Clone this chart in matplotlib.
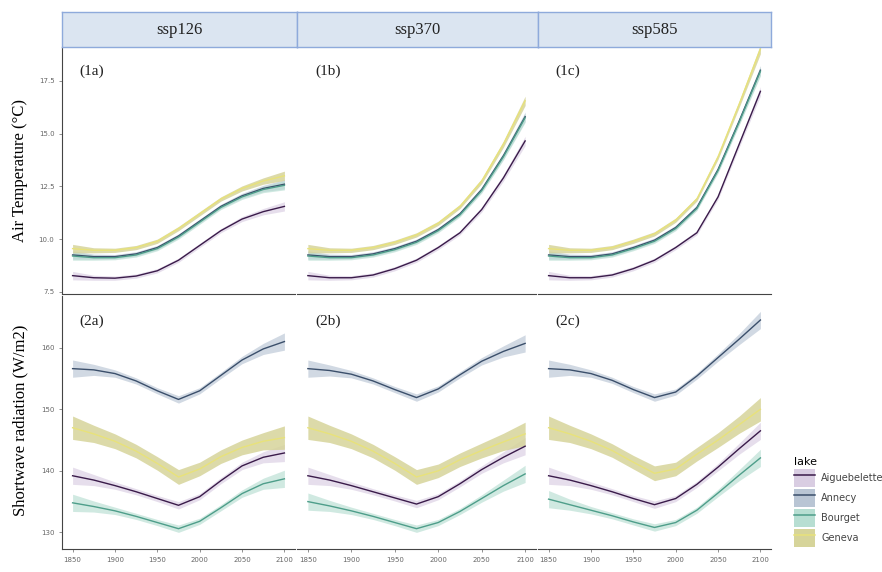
import numpy as np
import matplotlib.pyplot as plt
from matplotlib.patches import Patch
from matplotlib.lines import Line2D

# data (smoothed trends, every 25 years)
years = [1850, 1875, 1900, 1925, 1950, 1975, 2000, 2025, 2050, 2075, 2100]
scenarios = ['ssp126', 'ssp370', 'ssp585']
lakes = ['Aiguebelette', 'Annecy', 'Bourget', 'Geneva']

# air temperature (°C)
temp_aiguebelette = {
    'ssp126': [8.27, 8.17, 8.15, 8.25, 8.5, 9.0, 9.7, 10.4, 10.95, 11.3, 11.55],
    'ssp370': [8.27, 8.17, 8.17, 8.3, 8.6, 9.0, 9.6, 10.3, 11.4, 12.9, 14.65],
    'ssp585': [8.27, 8.17, 8.17, 8.3, 8.6, 9.0, 9.6, 10.3, 12.0, 14.5, 17.0],
}
temp_annecy = {
    'ssp126': [9.25, 9.17, 9.17, 9.3, 9.6, 10.15, 10.85, 11.55, 12.05, 12.4, 12.6],
    'ssp370': [9.25, 9.17, 9.17, 9.3, 9.55, 9.9, 10.45, 11.2, 12.35, 13.95, 15.8],
    'ssp585': [9.25, 9.17, 9.17, 9.3, 9.6, 9.95, 10.55, 11.5, 13.3, 15.6, 18.0],
}
temp_bourget = {
    'ssp126': [9.2, 9.12, 9.12, 9.25, 9.55, 10.1, 10.8, 11.5, 12.0, 12.35, 12.55],
    'ssp370': [9.2, 9.12, 9.12, 9.25, 9.5, 9.85, 10.4, 11.15, 12.3, 13.9, 15.75],
    'ssp585': [9.2, 9.12, 9.12, 9.25, 9.55, 9.9, 10.5, 11.45, 13.25, 15.55, 17.95],
}
temp_geneva = {
    'ssp126': [9.55, 9.47, 9.47, 9.6, 9.9, 10.5, 11.2, 11.9, 12.4, 12.75, 13.0],
    'ssp370': [9.55, 9.47, 9.47, 9.6, 9.85, 10.2, 10.75, 11.55, 12.75, 14.5, 16.55],
    'ssp585': [9.55, 9.47, 9.47, 9.6, 9.9, 10.25, 10.9, 11.9, 13.9, 16.4, 19.0],
}

# shortwave radiation (W/m2)
sw_aiguebelette = {
    'ssp126': [139.2, 138.5, 137.6, 136.6, 135.5, 134.4, 135.8, 138.4, 140.8, 142.2, 142.9],
    'ssp370': [139.2, 138.5, 137.6, 136.6, 135.6, 134.6, 135.8, 137.9, 140.2, 142.2, 144.0],
    'ssp585': [139.2, 138.5, 137.6, 136.6, 135.5, 134.5, 135.5, 137.8, 140.6, 143.6, 146.5],
}
sw_annecy = {
    'ssp126': [156.6, 156.4, 155.8, 154.6, 153.0, 151.6, 153.0, 155.5, 158.0, 159.8, 161.0],
    'ssp370': [156.6, 156.3, 155.7, 154.6, 153.2, 151.9, 153.3, 155.6, 157.8, 159.4, 160.7],
    'ssp585': [156.6, 156.4, 155.8, 154.7, 153.2, 151.9, 152.8, 155.4, 158.4, 161.4, 164.5],
}
sw_bourget = {
    'ssp126': [134.8, 134.2, 133.5, 132.6, 131.6, 130.6, 131.8, 134.0, 136.3, 137.9, 138.7],
    'ssp370': [135.0, 134.3, 133.5, 132.6, 131.6, 130.6, 131.6, 133.4, 135.5, 137.6, 139.5],
    'ssp585': [135.4, 134.5, 133.6, 132.7, 131.7, 130.8, 131.6, 133.6, 136.4, 139.3, 142.1],
}
sw_geneva = {
    'ssp126': [147.0, 146.0, 144.8, 143.2, 141.2, 139.0, 140.3, 142.3, 143.8, 144.8, 145.4],
    'ssp370': [147.0, 146.0, 144.8, 143.2, 141.2, 139.0, 140.0, 141.8, 143.3, 144.7, 146.0],
    'ssp585': [147.0, 146.0, 144.8, 143.3, 141.4, 139.6, 140.3, 142.7, 145.0, 147.5, 150.0],
}

# half widths of the confidence bands
temp_ci = [0.2, 0.12, 0.1, 0.1, 0.1, 0.1, 0.1, 0.1, 0.12, 0.15, 0.22]
sw_ci = [1.4, 0.9, 0.6, 0.5, 0.5, 0.6, 0.5, 0.5, 0.6, 0.9, 1.4]
sw_ci_geneva = [1.9, 1.4, 1.2, 1.1, 1.1, 1.2, 1.1, 1.1, 1.2, 1.4, 1.9]

temp_ticks = [7.5, 10.0, 12.5, 15.0, 17.5]
sw_ticks = [130, 140, 150, 160]
x_ticks = [1850, 1900, 1950, 2000, 2050, 2100]

line_colors = {'Aiguebelette': '#3a1b4a', 'Annecy': '#3b4f6b',
               'Bourget': '#4e9e8a', 'Geneva': '#e8e27a'}
fill_colors = {'Aiguebelette': '#d9cde2', 'Annecy': '#b9c5d4',
               'Bourget': '#b7ded2', 'Geneva': '#d6d49a'}

temp = {'Aiguebelette': temp_aiguebelette, 'Annecy': temp_annecy,
        'Bourget': temp_bourget, 'Geneva': temp_geneva}
sw = {'Aiguebelette': sw_aiguebelette, 'Annecy': sw_annecy,
      'Bourget': sw_bourget, 'Geneva': sw_geneva}

W, H = 882, 572
fig = plt.figure(figsize=(W / 100, H / 100), dpi=100)
serif = 'Liberation Serif'

col_x = [(62, 295), (297, 536), (538, 771)]
row_y = [(47, 294), (296, 549)]
tags = [['(1a)', '(1b)', '(1c)'], ['(2a)', '(2b)', '(2c)']]


def px_axes(x0, x1, y0, y1):
    return fig.add_axes([x0 / W, 1 - y1 / H, (x1 - x0) / W, (y1 - y0) / H])


for r in range(2):
    for c, sc in enumerate(scenarios):
        ax = px_axes(col_x[c][0], col_x[c][1], row_y[r][0], row_y[r][1])
        for lk in lakes:
            if r == 0:
                y = np.array(temp[lk][sc])
                ci = np.array(temp_ci)
            else:
                y = np.array(sw[lk][sc])
                ci = np.array(sw_ci_geneva if lk == 'Geneva' else sw_ci)
            ax.fill_between(years, y - ci, y + ci, color=fill_colors[lk],
                            alpha=0.65 if lk != 'Geneva' else 0.85, lw=0)
            ax.plot(years, y, color=line_colors[lk], lw=1.0)
        ax.set_xlim(1837.5, 2112.5)
        if r == 0:
            ax.set_ylim(7.4, 19.1)
            ax.set_yticks(temp_ticks)
            ax.set_yticklabels(['7.5', '10.0', '12.5', '15.0', '17.5'])
            ax.set_xticks([])
        else:
            ax.set_ylim(127.3, 168.4)
            ax.set_yticks(sw_ticks)
            ax.set_xticks(x_ticks)
        for s in ['top', 'right']:
            ax.spines[s].set_visible(False)
        ax.spines['bottom'].set_color('#444444')
        ax.spines['left'].set_color('#444444')
        if c > 0:
            ax.spines['left'].set_visible(False)
            ax.set_yticks([])
        ax.tick_params(labelsize=5, colors='#666666', length=2, width=0.5)
        ax.text(0.075, 0.9, tags[r][c], transform=ax.transAxes, fontsize=11,
                family=serif, ha='left', va='center', color='#222222')

# strips on top
for c, sc in enumerate(scenarios):
    sx = px_axes(col_x[c][0], col_x[c][1] + (2 if c < 2 else 0), 12, 47)
    sx.set_xticks([])
    sx.set_yticks([])
    sx.set_facecolor('#dbe5f1')
    for s in sx.spines.values():
        s.set_color('#8eaadb')
        s.set_linewidth(1)
    sx.text(0.5, 0.5, sc, transform=sx.transAxes, ha='center', va='center',
            fontsize=12, family=serif, color='#222222')

fig.text(20 / W, 1 - 170 / H, 'Air Temperature (°C)', rotation=90,
         ha='center', va='center', fontsize=12, family=serif)
fig.text(20 / W, 1 - 420 / H, 'Shortwave radiation (W/m2)', rotation=90,
         ha='center', va='center', fontsize=12, family=serif)

handles = [(Patch(facecolor=fill_colors[lk], edgecolor='none'),
            Line2D([0], [0], color=line_colors[lk], lw=1.1)) for lk in lakes]
leg = fig.legend(handles, lakes, title='lake', loc='upper left',
                 bbox_to_anchor=(790 / W, 1 - 453 / H), frameon=False,
                 fontsize=7, title_fontsize=8, handlelength=2.2,
                 handleheight=2.4, labelspacing=0.25, handletextpad=0.6,
                 borderaxespad=0)
for t in leg.get_texts():
    t.set_color('#444444')
leg._legend_box.align = 'left'

fig.savefig('out.png', dpi=100)
